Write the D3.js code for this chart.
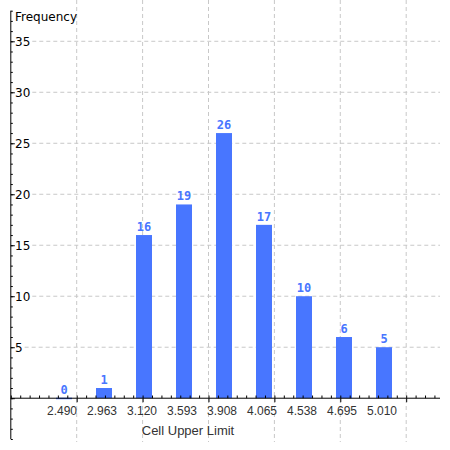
<!DOCTYPE html>
<html>
<head>
<meta charset="utf-8">
<script src="https://cdn.jsdelivr.net/npm/d3@7"></script>
<style>
  body { margin: 0; background: #fff; }
  svg { display: block; }
</style>
</head>
<body>
<svg width="450" height="450"></svg>
<script>
// data
var categories = ['2.490', '2.963', '3.120', '3.593', '3.908', '4.065', '4.538', '4.695', '5.010'];
var frequencies = [0, 1, 16, 19, 26, 17, 10, 6, 5];
var yTickLabels = [5, 10, 15, 20, 25, 30, 35];

var width = +d3.select('svg').attr('width');
var height = +d3.select('svg').attr('height');

var axisX = 10.8;   // where the y axis sits
var axisRight = 440;
var barColor = '#4876ff';
var gridColor = '#c8c8c8';

var svg = d3.select('svg');

// y scale: axis runs a bit below zero and up to 38
var scaleY = d3.scaleLinear().domain([-4, 38]).range([439, 10.7]);
var zeroY = scaleY(0);

// categories for the bars
var scaleBand = d3.scaleBand().domain(categories).range([44, 404]).paddingInner(0.6).paddingOuter(0.3);

// numeric axis behind the categories (majors = grid lines)
var scaleX = d3.scaleLinear().domain([0, 6.513]).range([axisX, axisRight]);

var gridG = svg.append('g');
var labelG = svg.append('g');

// vertical grid lines
gridG.selectAll('.vgrid')
    .data(d3.range(1, 7))
    .enter()
    .append('line')
    .attr('x1', function(d) { return scaleX(d); })
    .attr('x2', function(d) { return scaleX(d); })
    .attr('y1', 0)
    .attr('y2', 442)
    .attr('stroke', gridColor)
    .attr('stroke-dasharray', '4,3');

// y labels first, so grid lines can start after them
var yLabels = labelG.selectAll('.ylab')
    .data(yTickLabels)
    .enter()
    .append('text')
    .attr('x', 15)
    .attr('y', function(d) { return scaleY(d); })
    .attr('dy', '0.36em')
    .style('font-family', 'DejaVu Sans')
    .style('font-size', '12px')
    .attr('fill', '#000')
    .text(function(d) { return d; });

yLabels.each(function(d) {
    var bb = this.getBBox();
    gridG.append('line')
        .attr('x1', bb.x + bb.width + 2)
        .attr('x2', axisRight)
        .attr('y1', scaleY(d))
        .attr('y2', scaleY(d))
        .attr('stroke', gridColor)
        .attr('stroke-dasharray', '4,3');
});

// axis title on top of y axis
svg.append('text')
    .attr('x', 15)
    .attr('y', 21)
    .style('font-family', 'DejaVu Sans')
    .style('font-size', '12px')
    .text('Frequency');

// bars
var bars = svg.selectAll('.bar')
    .data(frequencies)
    .enter()
    .append('g');

bars.append('rect')
    .attr('x', function(d, i) { return scaleBand(categories[i]); })
    .attr('width', scaleBand.bandwidth())
    .attr('y', function(d) { return d > 0 ? scaleY(d) : zeroY - 0.5; })
    .attr('height', function(d) { return d > 0 ? zeroY - scaleY(d) : 1.5; })
    .attr('fill', barColor);

bars.append('text')
    .attr('x', function(d, i) { return scaleBand(categories[i]) + scaleBand.bandwidth() / 2; })
    .attr('y', function(d) { return scaleY(d) - 4; })
    .attr('text-anchor', 'middle')
    .style('font-family', 'DejaVu Sans Mono')
    .style('font-weight', 'bold')
    .style('font-size', '12px')
    .attr('fill', barColor)
    .text(function(d) { return d; });

// y axis: minor ticks every unit, longer ones every 5
var yAxisMinor = d3.axisRight(scaleY)
    .tickValues(d3.range(-4, 39))
    .tickSize(2)
    .tickFormat('');
var yAxisMajor = d3.axisRight(scaleY)
    .tickValues(d3.range(-0, 36, 5))
    .tickSize(4)
    .tickFormat('');

var yAxisG = svg.append('g').attr('transform', 'translate(' + axisX + ',0)');
yAxisG.append('g').call(yAxisMinor);
yAxisG.append('g').call(yAxisMajor);
yAxisG.selectAll('.domain').remove();
yAxisG.append('line')
    .attr('x1', 0).attr('x2', 0)
    .attr('y1', scaleY(38)).attr('y2', scaleY(-4))
    .attr('stroke', '#000');

// x axis: minor ticks above the line, majors crossing it
var minorTicks = d3.range(0, 46).map(function(k) { return k / 7; })
    .filter(function(v) { return v <= 6.5; });
var xAxisG = svg.append('g').attr('transform', 'translate(0,' + zeroY + ')');
xAxisG.call(d3.axisTop(scaleX).tickValues(minorTicks).tickSize(2.7).tickFormat(''));
xAxisG.append('g').call(d3.axisBottom(scaleX).tickValues(d3.range(1, 7)).tickSize(4).tickFormat(''));
xAxisG.selectAll('.domain').remove();
xAxisG.selectAll('line').attr('stroke', '#000');
xAxisG.append('line')
    .attr('x1', axisX).attr('x2', axisRight)
    .attr('y1', 0).attr('y2', 0)
    .attr('stroke', '#000');
yAxisG.selectAll('line').attr('stroke', '#000');

// category labels under the bars
svg.selectAll('.xlab')
    .data(categories)
    .enter()
    .append('text')
    .attr('x', function(d) { return scaleBand(d) + scaleBand.bandwidth() / 2 - 2; })
    .attr('y', 415)
    .attr('text-anchor', 'middle')
    .style('font-family', 'Liberation Sans')
    .style('font-size', '12px')
    .attr('fill', '#333')
    .text(function(d) { return d; });

svg.append('text')
    .attr('x', 188)
    .attr('y', 435)
    .attr('text-anchor', 'middle')
    .style('font-family', 'Liberation Sans')
    .style('font-size', '13px')
    .attr('fill', '#333')
    .text('Cell Upper Limit');
</script>
</body>
</html>
